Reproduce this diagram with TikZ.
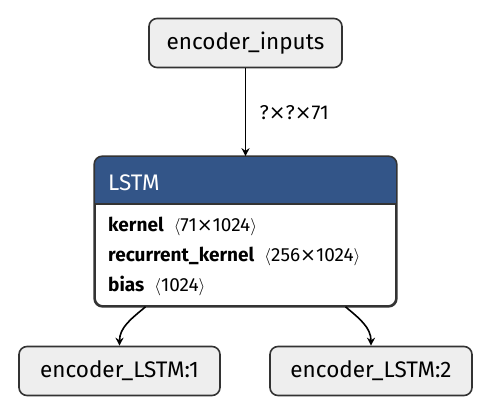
\documentclass[tikz,border=0pt]{standalone}
\usepackage{fontspec}
\setmainfont{Fira Sans}
\newfontfamily\symfont{DejaVu Sans}
\usetikzlibrary{arrows.meta}
\definecolor{layerblue}{HTML}{335588}
\definecolor{nodegray}{HTML}{EEEEEE}
\definecolor{linegray}{HTML}{333333}
\newcommand{\tms}{{\symfont ×}}
\begin{document}
\begin{tikzpicture}[x=1pt,y=-1pt,
    tensor/.style={draw=linegray,line width=1.6pt,fill=nodegray,rounded corners=8pt,
        minimum height=49pt,inner sep=0pt,font=\fontsize{22.5}{26}\selectfont},
    attr/.style={anchor=west,inner sep=0pt,font=\fontsize{19}{22}\selectfont},
    flow/.style={-{Stealth[length=8pt,width=8pt]},line width=1.6pt,black}]
    \useasboundingbox (0,0) rectangle (492,414);

    \node[tensor,minimum width=193pt] (inp) at (245.5,43) {encoder\_inputs};

    % layer box
    \node[draw=linegray,line width=1.6pt,fill=white,rounded corners=8pt,
          minimum width=301pt,minimum height=149pt,inner sep=0pt] (lstm) at (245.5,231.5) {};
    \begin{scope}
        \clip[rounded corners=8pt] (lstm.north west) rectangle (lstm.south east);
        \fill[layerblue] (lstm.north west) rectangle ([yshift=-48pt]lstm.north east);
    \end{scope}
    \draw[linegray,line width=1.6pt] ([yshift=-48pt]lstm.north west) -- ([yshift=-48pt]lstm.north east);
    \draw[linegray,line width=1.6pt,rounded corners=8pt] (lstm.north west) rectangle (lstm.south east);
    \node[attr,text=white,font=\fontsize{22.5}{26}\selectfont] (title) at (108,183) {LSTM};
    \node[attr] (kern) at (108,226) {\textbf{kernel}\ \ $\langle$71\tms1024$\rangle$};
    \node[attr] (rkern) at (108,256) {\textbf{recurrent\_kernel}\ \ $\langle$256\tms1024$\rangle$};
    \node[attr] (bias) at (108,286) {\textbf{bias}\ \ $\langle$1024$\rangle$};

    \node[tensor,minimum width=201pt] (out1) at (119.5,371) {encoder\_LSTM:1};
    \node[tensor,minimum width=202pt] (out2) at (371,371) {encoder\_LSTM:2};

    \draw[flow] (inp) -- node[right,xshift=10pt,font=\fontsize{20}{24}\selectfont] {?\tms?\tms71} (lstm);
    \draw[flow] ([xshift=-100pt]lstm.south) to[out=-140,in=90] (out1.north);
    \draw[flow] ([xshift=100pt]lstm.south) to[out=-40,in=90] (out2.north);
\end{tikzpicture}
\end{document}
